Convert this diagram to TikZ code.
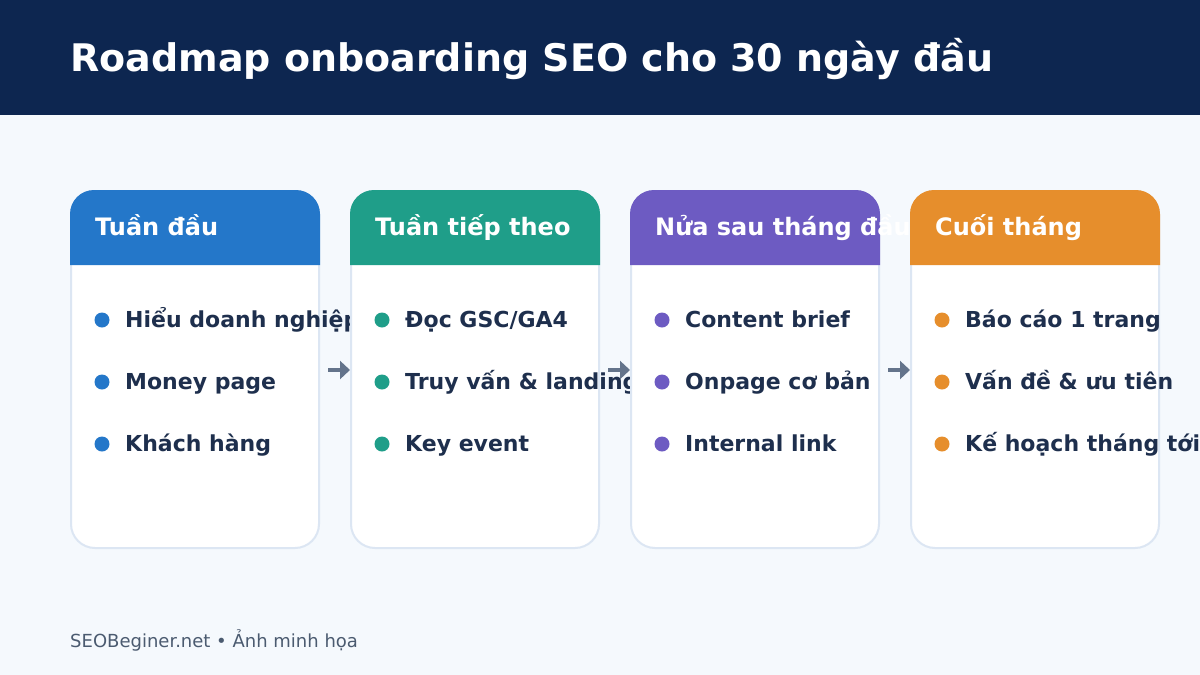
\documentclass[tikz,border=0pt]{standalone}
\usepackage{fontspec}
\setmainfont{DejaVu Sans}
\usetikzlibrary{arrows.meta}
\definecolor{bg}{HTML}{F5F9FD}
\definecolor{navy}{HTML}{0D2650}
\definecolor{cblue}{HTML}{2477C9}
\definecolor{cteal}{HTML}{1F9E89}
\definecolor{cpurple}{HTML}{6D5BC2}
\definecolor{corange}{HTML}{E68E2C}
\definecolor{ink}{HTML}{1E2F4D}
\definecolor{foot}{HTML}{4B5B70}
\definecolor{cardline}{HTML}{DCE6F3}
\definecolor{arrowc}{HTML}{64748B}
\begin{document}
\begin{tikzpicture}[x=1pt,y=-1pt,
  txt/.style={anchor=base west,inner sep=0pt},
  headtxt/.style={txt,text=white,font=\bfseries\fontsize{24}{27}\selectfont},
  itemtxt/.style={txt,text=ink,font=\bfseries\fontsize{22}{25}\selectfont},
  dot/.style={circle,inner sep=0pt,minimum size=15pt},
  cardbody/.style={fill=white,draw=cardline,line width=2pt,rounded corners=24pt},
  flow/.style={draw=arrowc,line width=4pt,-{Triangle[length=10pt,width=18pt]}}]
\useasboundingbox (0,0) rectangle (1200,675);
\fill[bg] (0,0) rectangle (1200,675);
\fill[navy] (0,0) rectangle (1200,115);
\node[txt,text=white,font=\bfseries\fontsize{38}{42}\selectfont] (title) at (70,71) {Roadmap onboarding SEO cho 30 ngày đầu};
\foreach \i/\x/\col/\head/\a/\b/\c in {
  1/70/cblue/{Tuần đầu}/{Hiểu doanh nghiệp}/{Money page}/{Khách hàng},
  2/350/cteal/{Tuần tiếp theo}/{Đọc GSC/GA4}/{Truy vấn \& landing}/{Key event},
  3/630/cpurple/{Nửa sau tháng đầu}/{Content brief}/{Onpage cơ bản}/{Internal link},
  4/910/corange/{Cuối tháng}/{Báo cáo 1 trang}/{Vấn đề \& ưu tiên}/{Kế hoạch tháng tới}}{
  \path[cardbody] (\x+1,191) rectangle (\x+249,548);
  \fill[\col] (\x,265) [rounded corners=24pt] -- (\x,190) -- (\x+250,190) [sharp corners] -- (\x+250,265) -- cycle;
  \node[headtxt] (h\i) at (\x+25,235) {\head};
  \node[dot,fill=\col] (b\i a) at (\x+32,320) {};
  \node[dot,fill=\col] (b\i b) at (\x+32,382) {};
  \node[dot,fill=\col] (b\i c) at (\x+32,444) {};
  \node[itemtxt] (t\i a) at (\x+55,327) {\a};
  \node[itemtxt] (t\i b) at (\x+55,389) {\b};
  \node[itemtxt] (t\i c) at (\x+55,451) {\c};
  \ifnum\i<4
    \coordinate (s\i) at (\x+258,370);
    \coordinate (e\i) at (\x+280,370);
    \draw[flow] (s\i) -- (e\i);
  \fi
}
\node[txt,text=foot,font=\fontsize{18}{21}\selectfont] (footer) at (70,647) {SEOBeginer.net • Ảnh minh họa};
\end{tikzpicture}
\end{document}
